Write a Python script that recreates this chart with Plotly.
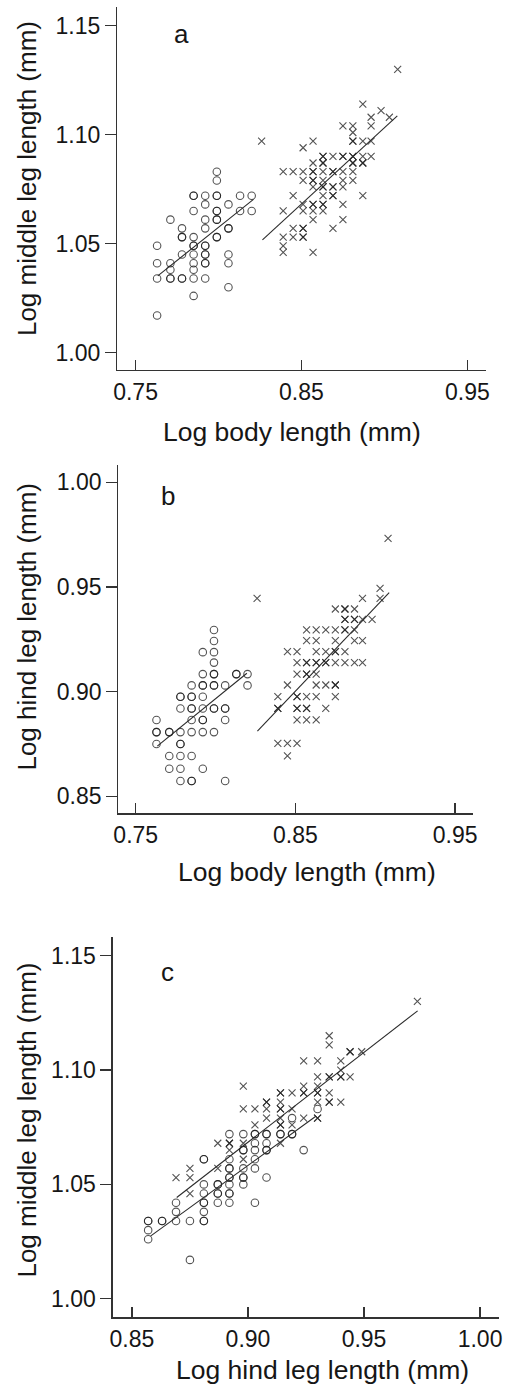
import plotly.graph_objects as go

# ---------------- data ----------------
# Panel a: log body length (x) vs log middle leg length (y)
a_circ_body = [0.763, 0.771, 0.778, 0.785, 0.792, 0.799, 0.806, 0.813, 0.820]
a_circ_mid = [
    [1.049, 1.041, 1.034, 1.017],
    [1.061, 1.041, 1.038, 1.034, 1.034],
    [1.057, 1.053, 1.053, 1.045, 1.034, 1.034],
    [1.072, 1.072, 1.065, 1.053, 1.049, 1.049, 1.045, 1.041, 1.038, 1.034, 1.026],
    [1.072, 1.068, 1.061, 1.057, 1.049, 1.049, 1.045, 1.045, 1.041, 1.041, 1.034],
    [1.083, 1.079, 1.072, 1.072, 1.065, 1.065, 1.061, 1.061, 1.053, 1.053],
    [1.068, 1.057, 1.057, 1.045, 1.041, 1.030],
    [1.072, 1.065],
    [1.072, 1.065],
]
a_cross_body = [0.826, 0.839, 0.845, 0.851, 0.857, 0.863, 0.869, 0.875, 0.881,
                0.887, 0.892, 0.898, 0.903, 0.908]
a_cross_mid = [
    [1.097],
    [1.083, 1.065, 1.053, 1.049, 1.046],
    [1.083, 1.072, 1.057, 1.053],
    [1.094, 1.083, 1.079, 1.068, 1.065, 1.057, 1.057, 1.053, 1.053],
    [1.097, 1.087, 1.083, 1.083, 1.079, 1.079, 1.076, 1.068, 1.068, 1.065, 1.061, 1.046],
    [1.090, 1.090, 1.087, 1.087, 1.083, 1.079, 1.076, 1.076, 1.072, 1.068, 1.068, 1.065],
    [1.090, 1.083, 1.083, 1.076, 1.076, 1.072, 1.072, 1.057],
    [1.104, 1.090, 1.090, 1.083, 1.079, 1.076, 1.068, 1.061],
    [1.104, 1.101, 1.097, 1.097, 1.090, 1.090, 1.087, 1.087, 1.083, 1.079],
    [1.114, 1.097, 1.090, 1.087, 1.087, 1.072],
    [1.108, 1.104, 1.097, 1.090],
    [1.111],
    [1.108],
    [1.130],
]
a_fit_circ_x = [0.7634, 0.8211]
a_fit_circ_y = [1.0352, 1.0703]
a_fit_cross_x = [0.8265, 0.9078]
a_fit_cross_y = [1.0517, 1.1086]

# Panel b: log body length (x) vs log hind leg length (y)
b_circ_body = [0.763, 0.771, 0.778, 0.785, 0.792, 0.799, 0.806, 0.813, 0.820]
b_circ_hind = [
    [0.8865, 0.8807, 0.8807, 0.8750],
    [0.8807, 0.8807, 0.8693, 0.8632],
    [0.8976, 0.8976, 0.8920, 0.8807, 0.8750, 0.8750, 0.8693, 0.8632, 0.8573],
    [0.9030, 0.8976, 0.8976, 0.8920, 0.8920, 0.8865, 0.8807, 0.8693, 0.8573, 0.8573],
    [0.9189, 0.9084, 0.9030, 0.9030, 0.8976, 0.8920, 0.8865, 0.8865, 0.8807, 0.8632],
    [0.9295, 0.9242, 0.9189, 0.9139, 0.9084, 0.9084, 0.9030, 0.9030, 0.8920, 0.8920, 0.8807],
    [0.9030, 0.8920, 0.8920, 0.8865, 0.8573],
    [0.9084, 0.9084],
    [0.9084, 0.9030],
]
b_cross_body = [0.826, 0.839, 0.845, 0.851, 0.857, 0.863, 0.869, 0.875, 0.881,
                0.887, 0.892, 0.898, 0.903, 0.908]
b_cross_hind = [
    [0.9446],
    [0.8976, 0.8920, 0.8920, 0.8753],
    [0.9191, 0.9032, 0.8753, 0.8693],
    [0.9191, 0.9139, 0.9084, 0.8976, 0.8976, 0.8920, 0.8920, 0.8865, 0.8753],
    [0.9295, 0.9244, 0.9139, 0.9139, 0.9084, 0.9084, 0.8976, 0.8920, 0.8920, 0.8865],
    [0.9295, 0.9244, 0.9191, 0.9139, 0.9139, 0.9084, 0.9032, 0.8976, 0.8865],
    [0.9295, 0.9191, 0.9139, 0.9139, 0.9032, 0.8920],
    [0.9395, 0.9295, 0.9244, 0.9191, 0.9191, 0.9139, 0.9032, 0.9032, 0.8976],
    [0.9395, 0.9395, 0.9346, 0.9346, 0.9295, 0.9295, 0.9191, 0.9139],
    [0.9395, 0.9346, 0.9346, 0.9295, 0.9244, 0.9139],
    [0.9446, 0.9346, 0.9244, 0.9139],
    [0.9346],
    [0.9494, 0.9446],
    [0.9732],
]
b_fit_circ_x = [0.7635, 0.8196]
b_fit_circ_y = [0.8740, 0.9088]
b_fit_cross_x = [0.8262, 0.9087]
b_fit_cross_y = [0.8812, 0.9473]

# Panel c: log hind leg length (x) vs log middle leg length (y)
c_circ_hind = [0.857, 0.863, 0.869, 0.875, 0.881, 0.887, 0.892, 0.898, 0.903,
               0.908, 0.914, 0.919, 0.924, 0.930]
c_circ_mid = [
    [1.034, 1.034, 1.030, 1.026],
    [1.034, 1.034],
    [1.042, 1.038, 1.034],
    [1.034, 1.017],
    [1.061, 1.061, 1.050, 1.046, 1.042, 1.042, 1.038, 1.034, 1.034],
    [1.050, 1.050, 1.046, 1.046, 1.042],
    [1.072, 1.061, 1.057, 1.057, 1.053, 1.053, 1.050, 1.046, 1.046, 1.042],
    [1.072, 1.065, 1.065, 1.057, 1.053, 1.053, 1.050],
    [1.072, 1.072, 1.068, 1.065, 1.061, 1.057, 1.042],
    [1.072, 1.072, 1.068, 1.065, 1.065, 1.053],
    [1.072, 1.072],
    [1.079, 1.072, 1.072],
    [1.065],
    [1.083],
]
c_cross_hind = [0.869, 0.875, 0.887, 0.892, 0.898, 0.903, 0.908, 0.914, 0.919,
                0.924, 0.930, 0.935, 0.940, 0.944, 0.949, 0.973]
c_cross_mid = [
    [1.053],
    [1.057, 1.053, 1.046],
    [1.068, 1.057],
    [1.068, 1.068, 1.065],
    [1.093, 1.083, 1.068, 1.061],
    [1.083, 1.076],
    [1.086, 1.086, 1.083, 1.079],
    [1.090, 1.090, 1.086, 1.083, 1.083, 1.079, 1.076, 1.076, 1.068],
    [1.090, 1.083, 1.076],
    [1.104, 1.093, 1.090, 1.090, 1.079],
    [1.104, 1.097, 1.093, 1.090, 1.090, 1.086, 1.079, 1.079],
    [1.115, 1.111, 1.097, 1.097, 1.090, 1.086, 1.086],
    [1.104, 1.100, 1.097, 1.097, 1.086],
    [1.108, 1.108, 1.097],
    [1.108],
    [1.130],
]
c_fit_circ_x = [0.8580, 0.9294]
c_fit_circ_y = [1.0274, 1.0799]
c_fit_cross_x = [0.8693, 0.9731]
c_fit_cross_y = [1.0443, 1.1259]

# tick labels
ticks_body = [0.75, 0.85, 0.95]
ticks_mid = [1.00, 1.05, 1.10, 1.15]
ticks_hind_y = [0.85, 0.90, 0.95, 1.00]
ticks_hind_x = [0.85, 0.90, 0.95, 1.00]

labels = {
    "a_x": "Log body length (mm)", "a_y": "Log middle leg length (mm)",
    "b_x": "Log body length (mm)", "b_y": "Log hind leg length (mm)",
    "c_x": "Log hind leg length (mm)", "c_y": "Log middle leg length (mm)",
}


def expand(cols, groups):
    xs, ys = [], []
    for x, g in zip(cols, groups):
        for y in g:
            xs.append(x)
            ys.append(y)
    return xs, ys


# ---------------- figure ----------------
W, H = 520, 1385
FONT = "Liberation Sans, Arial, Helvetica, sans-serif"
INK = "#161616"
MCOL = "rgba(25,25,25,0.75)"
LCOL = "#2a2a2a"

fig = go.Figure()

panels = [
    ("x", "y", a_circ_body, a_circ_mid, a_cross_body, a_cross_mid,
     a_fit_circ_x, a_fit_circ_y, a_fit_cross_x, a_fit_cross_y),
    ("x2", "y2", b_circ_body, b_circ_hind, b_cross_body, b_cross_hind,
     b_fit_circ_x, b_fit_circ_y, b_fit_cross_x, b_fit_cross_y),
    ("x3", "y3", c_circ_hind, c_circ_mid, c_cross_hind, c_cross_mid,
     c_fit_circ_x, c_fit_circ_y, c_fit_cross_x, c_fit_cross_y),
]

for xa, ya, ccols, cgroups, xcols, xgroups, fcx, fcy, fxx, fxy in panels:
    cx, cy = expand(ccols, cgroups)
    xx, xy = expand(xcols, xgroups)
    fig.add_trace(go.Scatter(x=cx, y=cy, mode="markers", xaxis=xa, yaxis=ya,
                             marker=dict(symbol="circle-open", size=7.5, color=MCOL,
                                         line=dict(width=1.1, color=MCOL)),
                             showlegend=False, hoverinfo="skip"))
    fig.add_trace(go.Scatter(x=xx, y=xy, mode="markers", xaxis=xa, yaxis=ya,
                             marker=dict(symbol="x-thin-open", size=7, color=MCOL,
                                         line=dict(width=1.1, color=MCOL)),
                             showlegend=False, hoverinfo="skip"))
    fig.add_trace(go.Scatter(x=fcx, y=fcy, mode="lines", xaxis=xa, yaxis=ya,
                             line=dict(color=LCOL, width=1.1),
                             showlegend=False, hoverinfo="skip"))
    fig.add_trace(go.Scatter(x=fxx, y=fxy, mode="lines", xaxis=xa, yaxis=ya,
                             line=dict(color=LCOL, width=1.1),
                             showlegend=False, hoverinfo="skip"))


def px_dom(x0, x1):
    return [x0 / W, x1 / W]


def py_dom(top, bottom):
    return [1 - bottom / H, 1 - top / H]


axis_common = dict(showline=True, linecolor="#333333", linewidth=1.4,
                   showgrid=False, zeroline=False, tickcolor="#333333",
                   tickwidth=1.4, tickformat=".2f",
                   tickfont=dict(family=FONT, size=23, color=INK))

xstyle = dict(axis_common, ticks="inside", ticklen=10, ticklabelstandoff=1)
ystyle = dict(axis_common, ticks="outside", ticklen=11)

fig.update_layout(
    width=W, height=H,
    margin=dict(l=0, r=0, t=0, b=0),
    paper_bgcolor="white", plot_bgcolor="white",
    showlegend=False,
    xaxis=dict(xstyle, domain=px_dom(114.5, 490), range=[0.739, 0.961],
               tickvals=ticks_body, anchor="y"),
    yaxis=dict(ystyle, domain=py_dom(7, 370), range=[0.992, 1.1586],
               tickvals=ticks_mid, anchor="x"),
    xaxis2=dict(xstyle, domain=px_dom(115.7, 476.7), range=[0.7392, 0.9609],
                tickvals=ticks_body, anchor="y2"),
    yaxis2=dict(ystyle, domain=py_dom(465, 813.3), range=[0.8419, 1.0083],
                tickvals=ticks_hind_y, anchor="x2"),
    xaxis3=dict(xstyle, domain=px_dom(110, 503.3), range=[0.8418, 1.008],
                tickvals=ticks_hind_x, anchor="y3"),
    yaxis3=dict(ystyle, domain=py_dom(936.7, 1317.3), range=[0.9919, 1.1583],
                tickvals=ticks_mid, anchor="x3"),
)


def ann(text, xp, yp, angle=0, size=26):
    fig.add_annotation(text=text, x=xp / W, y=1 - yp / H, xref="paper", yref="paper",
                       showarrow=False, textangle=angle, xanchor="center",
                       yanchor="middle",
                       font=dict(family=FONT, size=size, color=INK))


ann(labels["a_x"], 293, 432, size=26.5)
ann(labels["b_x"], 308, 872, size=26.5)
ann(labels["c_x"], 324, 1370, size=26.5)
ann(labels["a_y"], 22, 178.5, angle=-90)
ann(labels["b_y"], 22, 627, angle=-90)
ann(labels["c_y"], 22, 1120, angle=-90)
ann("a", 180, 34)
ann("b", 166, 496)
ann("c", 166, 972)

fig.write_html("out.html",
               config={"displayModeBar": False, "staticPlot": True},
               post_script="document.body.style.margin='0';"
                           "document.body.style.overflow='hidden';")
